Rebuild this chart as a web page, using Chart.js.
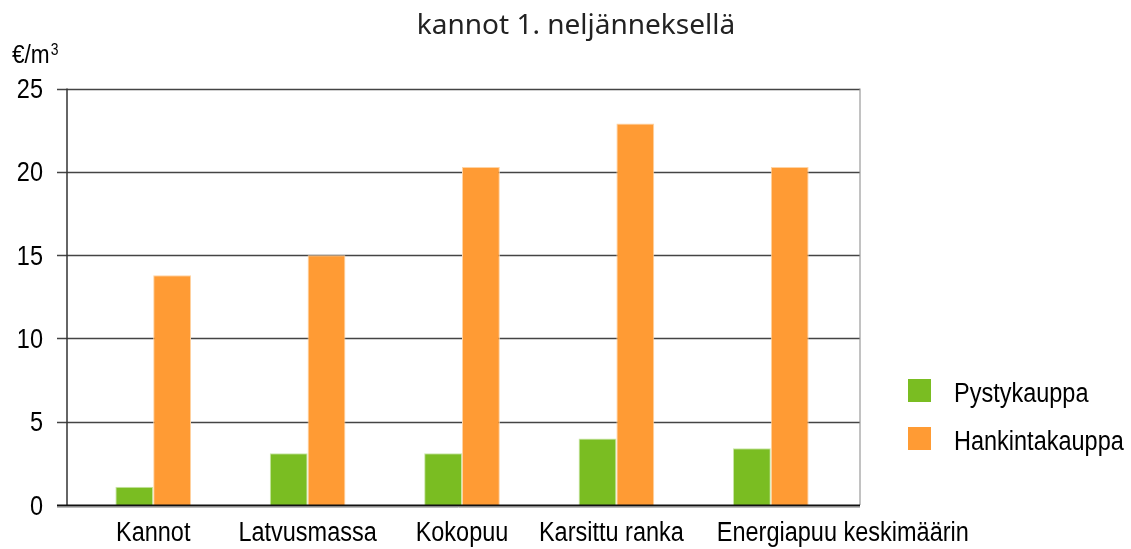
<!DOCTYPE html>
<html>
<head>
<meta charset="utf-8">
<script src="https://cdn.jsdelivr.net/npm/chart.js@4/dist/chart.umd.min.js"></script>
<style>
  html, body { margin: 0; padding: 0; background: #fff; }
  #wrap { width: 1131px; height: 549px; }
</style>
</head>
<body>
<div id="wrap"><canvas id="canvas" width="1131" height="549"></canvas></div>
<script>
var categories = ['Kannot', 'Latvusmassa', 'Kokopuu', 'Karsittu ranka', 'Energiapuu keskimäärin'];
var pystykauppa = [1.1, 3.1, 3.1, 4.0, 3.4];
var hankintakauppa = [13.8, 15.0, 20.3, 22.9, 20.3];
var yTicks = [0, 5, 10, 15, 20, 25];
var chartTitle = 'kannot 1. neljänneksellä';
var unitLabel = '€/m';
var unitSup = '3';

var sansFont = '"Liberation Sans", Arial, sans-serif';

// Arial squeezed sideways, stands in for the narrow face of the original
function narrowText(ctx, text, x, y, size, align) {
	ctx.save();
	ctx.font = size + 'px ' + sansFont;
	ctx.textAlign = align;
	ctx.textBaseline = 'alphabetic';
	ctx.translate(x, y);
	ctx.scale(0.87, 1);
	ctx.fillText(text, 0, 0);
	ctx.restore();
}

var framePlugin = {
	id: 'frame',
	beforeDatasetsDraw: function(chart) {
		var ctx = chart.ctx, y = chart.scales.y, a = chart.chartArea;
		var left = 67, right = 860;
		ctx.save();
		ctx.strokeStyle = '#444';
		ctx.lineWidth = 1.3;
		yTicks.forEach(function(v) {
			if (v === 0) return;
			var py = Math.round(y.getPixelForValue(v)) + 0.5;
			ctx.beginPath(); ctx.moveTo(57, py); ctx.lineTo(right, py); ctx.stroke();
		});
		ctx.strokeStyle = '#333';
		ctx.lineWidth = 1.5;
		ctx.beginPath(); ctx.moveTo(left, a.top); ctx.lineTo(left, a.bottom); ctx.stroke();
		ctx.strokeStyle = '#999';
		ctx.lineWidth = 1.2;
		ctx.beginPath(); ctx.moveTo(right, a.top); ctx.lineTo(right, a.bottom); ctx.stroke();
		ctx.restore();
	},
	afterDatasetsDraw: function(chart) {
		var ctx = chart.ctx, y = chart.scales.y;
		var py = Math.round(y.getPixelForValue(0)) + 0.5;
		ctx.save();
		ctx.strokeStyle = '#bbb';
		ctx.lineWidth = 1;
		ctx.beginPath(); ctx.moveTo(57, py + 2); ctx.lineTo(860, py + 2); ctx.stroke();
		ctx.strokeStyle = '#111';
		ctx.lineWidth = 1.8;
		ctx.beginPath(); ctx.moveTo(57, py); ctx.lineTo(860, py); ctx.stroke();
		ctx.restore();
	},
	afterDraw: function(chart) {
		var ctx = chart.ctx, x = chart.scales.x, y = chart.scales.y, a = chart.chartArea;
		ctx.save();
		ctx.fillStyle = '#000';
		// unit above the value axis
		narrowText(ctx, unitLabel, 12, 63, 26, 'left');
		ctx.font = '26px ' + sansFont;
		var w = ctx.measureText(unitLabel).width * 0.87;
		narrowText(ctx, unitSup, 12 + w + 1, 55, 16, 'left');
		// value ticks
		yTicks.forEach(function(v) {
			narrowText(ctx, String(v), 43, y.getPixelForValue(v) + 9.5, 27, 'right');
		});
		// category labels
		var shift = [0, 0, 0, -5, 72];
		categories.forEach(function(c, i) {
			narrowText(ctx, c, x.getPixelForValue(i) + shift[i], a.bottom + 36, 27, 'center');
		});
		// legend
		chart.data.datasets.forEach(function(ds, i) {
			var top = 379 + i * 48;
			ctx.fillStyle = ds.backgroundColor;
			ctx.fillRect(908, top, 23, 23);
			ctx.fillStyle = '#000';
			narrowText(ctx, ds.label, 954, top + 23, 27, 'left');
		});
		ctx.restore();
	}
};

var ctx = document.getElementById('canvas').getContext('2d');
window.myBar = new Chart(ctx, {
	type: 'bar',
	data: {
		labels: categories,
		datasets: [{
			label: 'Pystykauppa',
			data: pystykauppa,
			backgroundColor: '#7abd22',
			borderColor: '#c9e6a6',
			borderWidth: 1
		}, {
			label: 'Hankintakauppa',
			data: hankintakauppa,
			backgroundColor: '#ff9b34',
			borderColor: '#ffd3a3',
			borderWidth: 1
		}]
	},
	options: {
		responsive: false,
		animation: false,
		layout: { padding: { left: 21, top: 0, right: 0, bottom: 0 } },
		categoryPercentage: 0.49,
		barPercentage: 1.0,
		plugins: {
			legend: { display: false },
			tooltip: { enabled: false },
			title: {
				display: true,
				text: chartTitle,
				color: '#222',
				font: { family: '"Noto Sans", sans-serif', size: 28, weight: 'normal', lineHeight: 1.2 },
				padding: { top: 9, bottom: 46 }
			}
		},
		scales: {
			x: {
				grid: { display: false },
				border: { display: false },
				ticks: { display: false },
				afterFit: function(s) { s.height = 44; }
			},
			y: {
				min: 0,
				max: 25,
				grid: { display: false },
				border: { display: false },
				ticks: { display: false, stepSize: 5 },
				afterFit: function(s) { s.width = 55; }
			},
			side: {
				type: 'linear',
				position: 'right',
				grid: { display: false },
				border: { display: false },
				ticks: { display: false },
				afterFit: function(s) { s.width = 283; }
			}
		}
	},
	plugins: [framePlugin]
});
</script>
</body>
</html>
